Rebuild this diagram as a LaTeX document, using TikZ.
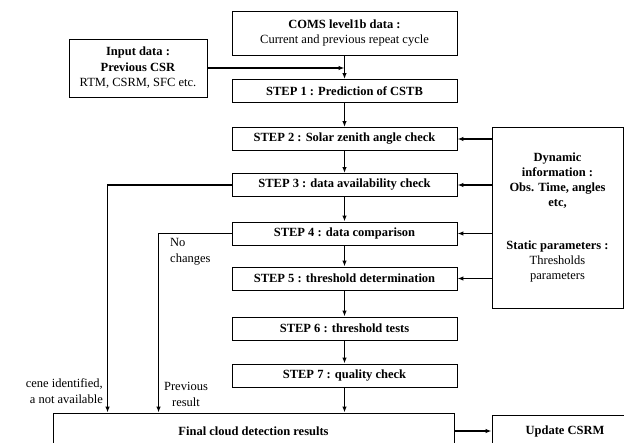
\documentclass[tikz,border=0pt]{standalone}
\usepackage{fontspec}
\setmainfont{Liberation Serif}
\usetikzlibrary{arrows.meta}

\begin{document}
\begin{tikzpicture}[x=1pt, y=-1pt,
        box/.style={rectangle, draw, line width=0.9pt, inner sep=2pt, align=center, font=\fontsize{12.5}{15.5}\selectfont},
        stepbox/.style={box, minimum width=225pt, minimum height=23pt, font=\fontsize{12.5}{15.5}\selectfont\bfseries},
        arrow/.style={-{Latex[length=6pt,width=4.5pt]}, line width=1.4pt},
        note/.style={font=\fontsize{12.5}{16.5}\selectfont, inner sep=0pt}
    ]
        \useasboundingbox (0,0) rectangle (624,442);

        % Input
        \node[box, minimum width=225pt, minimum height=44pt] (coms) at (344.5,33) {\textbf{COMS level1b data :}\\Current and previous repeat cycle};
        \node[box, minimum width=138pt, minimum height=58pt] (inp) at (138,68) {\textbf{Input data :}\\\textbf{Previous CSR}\\RTM, CSRM, SFC etc.};

        % Steps
        \node[stepbox] (s1) at (344.5,91) {STEP 1 : Prediction of CSTB};
        \node[stepbox] (s2) at (344.5,139) {STEP 2 : Solar zenith angle check};
        \node[stepbox] (s3) at (344.5,185) {STEP 3 : data availability check};
        \node[stepbox] (s4) at (344.5,233.5) {STEP 4 : data comparison};
        \node[stepbox] (s5) at (344.5,278.5) {STEP 5 : threshold determination};
        \node[stepbox] (s6) at (344.5,328.5) {STEP 6 : threshold tests};
        \node[stepbox] (s7) at (344.5,375.5) {STEP 7 : quality check};

        % Side information
        \node[box, minimum width=131pt, minimum height=181pt, font=\fontsize{12.5}{15}\selectfont] (info) at (557.5,217.5) {\textbf{Dynamic}\\\textbf{information :}\\\textbf{Obs. Time, angles}\\\textbf{etc,}\\[28pt]\textbf{Static parameters :}\\Thresholds\\parameters};

        % Results
        \node[box, minimum width=401pt, minimum height=36pt, font=\fontsize{12.5}{15.5}\selectfont\bfseries] (final) at (253.5,431) {Final cloud detection results};
        \node[box, minimum width=140pt, minimum height=32pt, font=\fontsize{12.5}{15.5}\selectfont\bfseries] (upd) at (562,431) {\hspace{6pt}Update CSRM};

        % Main flow
        \draw[arrow] (coms) -- (s1);
        \draw[arrow] (inp.east) -- (inp.east -| coms.south);
        \draw[arrow] (s1) -- (s2);
        \draw[arrow] (s2) -- (s3);
        \draw[arrow] (s3) -- (s4);
        \draw[arrow] (s4) -- (s5);
        \draw[arrow] (s5) -- (s6);
        \draw[arrow] (s6) -- (s7);
        \draw[arrow] (s7) -- (s7 |- final.north);
        \draw[arrow] (final.east) -- (upd.west);

        \draw[arrow] (info.west |- s2.east) -- (s2.east);
        \draw[arrow] (info.west |- s3.east) -- (s3.east);
        \draw[arrow] (info.west |- s4.east) -- (s4.east);
        \draw[arrow] (info.west |- s5.east) -- (s5.east);

        % Shortcuts
        \draw[arrow] (s3.west) -| ([xshift=55pt]final.north west);
        \draw[arrow] (s4.west) -| ([xshift=106pt]final.north west);

        \node[note, anchor=north east, align=right] (lbl1) at (103,378) {cene identified,\\a not available};
        \node[note, anchor=north west, align=left] (lbl2) at (170,238) {No\\changes};
        \node[note, anchor=north, align=center] (lbl3) at (186,382) {Previous\\result};
    \end{tikzpicture}
\end{document}
